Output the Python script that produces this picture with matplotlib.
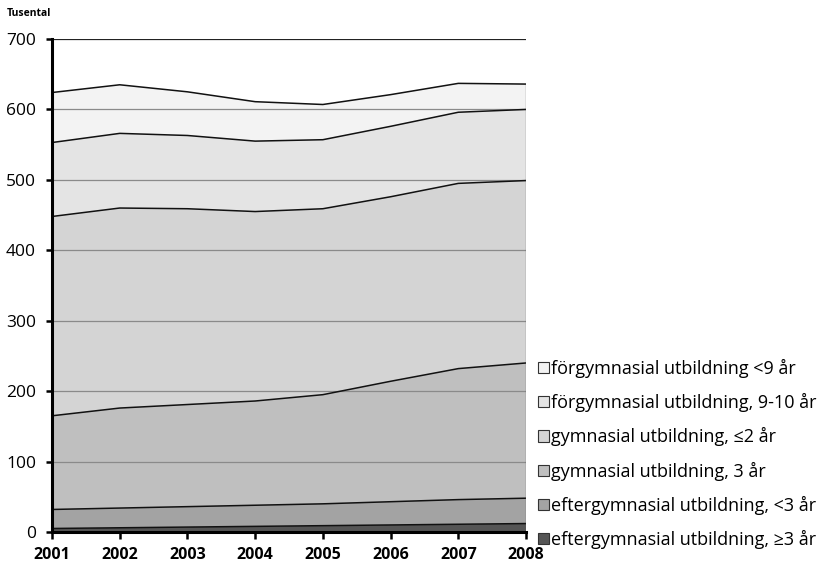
import matplotlib
matplotlib.use("Agg")
import matplotlib.pyplot as plt
from matplotlib.patches import Patch
import numpy as np

plt.rcParams['font.family'] = ['Open Sans', 'DejaVu Sans']

years = [2001, 2002, 2003, 2004, 2005, 2006, 2007, 2008]

# Series values (thousands), from bottom of the stack to the top
efter_3plus = [5, 6, 7, 8, 9, 10, 11, 12]
efter_lt3 = [27, 28, 29, 30, 31, 33, 35, 36]
gymn_3 = [133, 142, 145, 148, 155, 171, 186, 192]
gymn_le2 = [283, 284, 278, 269, 264, 262, 263, 259]
forgymn_9_10 = [105, 106, 104, 100, 98, 100, 101, 101]
forgymn_lt9 = [71, 69, 62, 56, 50, 45, 41, 36]

labels = [
    "eftergymnasial utbildning, \u22653 år",
    "eftergymnasial utbildning, <3 år",
    "gymnasial utbildning, 3 år",
    "gymnasial utbildning, \u22642 år",
    "förgymnasial utbildning, 9-10 år",
    "förgymnasial utbildning <9 år",
]
colors = ["#555555", "#a3a3a3", "#bfbfbf", "#d4d4d4", "#e4e4e4", "#f3f3f3"]

series = [efter_3plus, efter_lt3, gymn_3, gymn_le2, forgymn_9_10, forgymn_lt9]

fig = plt.figure(figsize=(8.26, 5.66), dpi=100)
ax = fig.add_axes([52 / 826, 1 - 532 / 566, (526 - 52) / 826, (532 - 39) / 566])

x = np.array(years)
bottom = np.zeros(len(years))
for vals, col in zip(series, colors):
    top = bottom + np.array(vals)
    ax.fill_between(x, bottom, top, facecolor=col, edgecolor="none", zorder=1)
    bottom = top

# gridlines on top of the fills
for yv in range(100, 700, 100):
    ax.axhline(yv, color="#8a8a8a", lw=0.9, zorder=2)
ax.axhline(700, color="#222222", lw=0.9, zorder=2)

# boundary lines of each layer
bottom = np.zeros(len(years))
for vals in series:
    top = bottom + np.array(vals)
    ax.plot(x, top, color="#111111", lw=1.1, zorder=3)
    bottom = top
ax.plot([x[-1], x[-1]], [0, bottom[-1]], color="#555555", lw=0.9, zorder=3)

ax.set_xlim(2001, 2008)
ax.set_ylim(0, 700)
ax.set_xticks(years)
ax.set_xticklabels([str(y) for y in years], fontweight="bold", fontsize=11.5)
ax.set_yticks(range(0, 800, 100))
ax.tick_params(axis="y", direction="out", length=4.5, width=1.8, labelsize=12.5, pad=7)
ax.tick_params(axis="x", direction="out", length=5, width=1.8, pad=6)
for s in ["top", "right"]:
    ax.spines[s].set_visible(False)
ax.spines["left"].set_linewidth(2.2)
ax.spines["bottom"].set_linewidth(2.2)
ax.spines["left"].set_zorder(4)
ax.spines["bottom"].set_zorder(4)

fig.text(7 / 826, 1 - 14 / 566, "Tusental", fontsize=7.5, fontweight="bold", va="center")

handles = [Patch(facecolor=c, edgecolor="#333333", lw=0.8) for c in colors]
leg = fig.legend(handles[::-1], labels[::-1], loc="center left",
                 bbox_to_anchor=(522 / 826, 1 - 454 / 566), frameon=False,
                 fontsize=13, handlelength=0.58, handleheight=0.58,
                 handletextpad=0.15, labelspacing=0.84)

fig.savefig("out.png", dpi=100)
